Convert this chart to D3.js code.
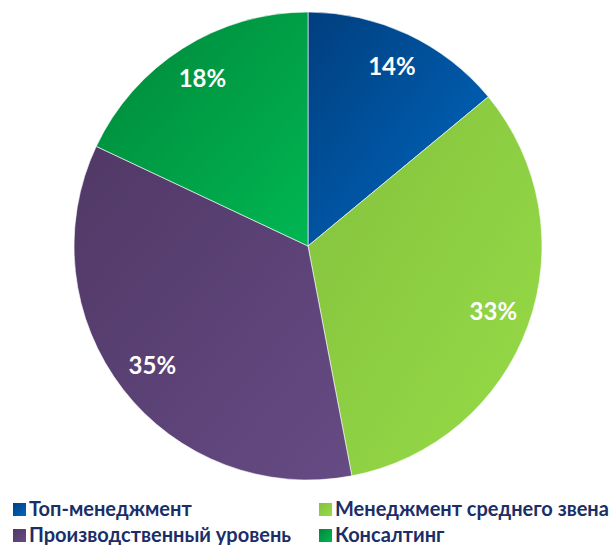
<!DOCTYPE html>
<html>
<head>
<meta charset="utf-8">
<script src="https://cdn.jsdelivr.net/npm/d3@7"></script>
<style>
    body { margin: 0; background: #fff; }
    svg { display: block; }
</style>
</head>
<body>
<div id="chart"></div>
<script>
const categories = ["Топ-менеджмент", "Менеджмент среднего звена", "Производственный уровень", "Консалтинг"];
const values = [14, 33, 35, 18];
const labels = ["14%", "33%", "35%", "18%"];
// gradient stops: dark (top-left) -> light (bottom-right)
const colorsDark = ["#003f7e", "#84c13e", "#503866", "#00873a"];
const colorsLight = ["#0068c2", "#96dc47", "#664b84", "#00b752"];

const width = 611;
const height = 545;
const cx = 308, cy = 246, radius = 234;

const svg = d3.select("#chart")
    .append("svg")
    .attr("width", width)
    .attr("height", height);

const defs = svg.append("defs");
categories.forEach((c, i) => {
    const g = defs.append("linearGradient")
        .attr("id", "grad" + i)
        .attr("x1", "0%").attr("y1", "0%")
        .attr("x2", "100%").attr("y2", "100%");
    g.append("stop").attr("offset", "0%").attr("stop-color", colorsDark[i]);
    g.append("stop").attr("offset", "100%").attr("stop-color", colorsLight[i]);
});

const pie = d3.pie().sort(null).value(d => d);
const arcs = pie(values);

const arc = d3.arc().innerRadius(0).outerRadius(radius);
const labelArc = d3.arc().innerRadius(197).outerRadius(197);

const g = svg.append("g").attr("transform", `translate(${cx},${cy})`);

g.selectAll("path")
    .data(arcs)
    .enter()
    .append("path")
    .attr("d", arc)
    .attr("fill", (d, i) => `url(#grad${i})`)
    .attr("stroke", "#fff")
    .attr("stroke-width", 0.6);

g.selectAll("text")
    .data(arcs)
    .enter()
    .append("text")
    .attr("transform", d => `translate(${labelArc.centroid(d)})`)
    .attr("text-anchor", "middle")
    .attr("dy", "0.3em")
    .attr("fill", "#fff")
    .style("font-family", "Lato, 'Open Sans', sans-serif")
    .style("font-weight", "bold")
    .style("font-size", "24px")
    .text((d, i) => labels[i]);

// legend
const legendPos = [[13, 516], [319, 516], [13, 542], [319, 542]];
const legend = svg.selectAll(".legend-item")
    .data(categories)
    .enter()
    .append("g")
    .attr("class", "legend-item")
    .attr("transform", (d, i) => `translate(${legendPos[i][0]},${legendPos[i][1]})`);

legend.append("rect")
    .attr("x", 0)
    .attr("y", -13)
    .attr("width", 13)
    .attr("height", 13)
    .attr("fill", (d, i) => `url(#grad${i})`);

legend.append("text")
    .attr("x", 16)
    .attr("fill", "#1b2f66")
    .style("font-family", "Lato, 'Open Sans', sans-serif")
    .style("font-weight", "bold")
    .style("font-size", "20px")
    .text(d => d);
</script>
</body>
</html>
